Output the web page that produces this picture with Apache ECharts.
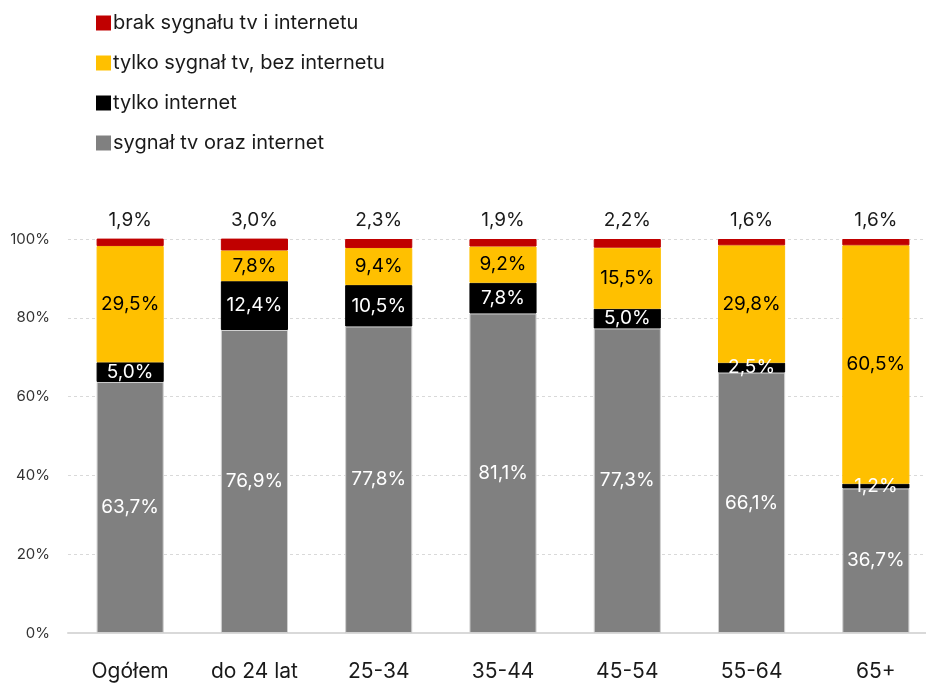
<!DOCTYPE html>
<html>
<head>
<meta charset="utf-8">
<script src="https://cdn.jsdelivr.net/npm/echarts@6/dist/echarts.min.js"></script>
<style>
  html, body { margin: 0; padding: 0; background: #fff; overflow: hidden; }
  #chart { width: 940px; height: 684px; }
</style>
</head>
<body>
<div id="chart"></div>
<script>
// Age groups
const categories = ['Ogółem', 'do 24 lat', '25-34', '35-44', '45-54', '55-64', '65+'];

// Shares (%) per segment, bottom to top of each stack
const tvAndInternet = [63.7, 76.9, 77.8, 81.1, 77.3, 66.1, 36.7];
const internetOnly  = [5.0, 12.4, 10.5, 7.8, 5.0, 2.5, 1.2];
const tvOnly        = [29.5, 7.8, 9.4, 9.2, 15.5, 29.8, 60.5];
const noSignal      = [1.9, 3.0, 2.3, 1.9, 2.2, 1.6, 1.6];

const yTicks = [0, 20, 40, 60, 80, 100];

const seriesNames = {
  both: 'sygnał tv oraz internet',
  internet: 'tylko internet',
  tv: 'tylko sygnał tv, bez internetu',
  none: 'brak sygnału tv i internetu'
};

const FONT = 'Inter, "Noto Sans", sans-serif';
const fmt = v => v.toFixed(1).replace('.', ',') + '%';

function seg(name, data, color, labelColor, pos, borderColor) {
  return {
    name: name,
    type: 'bar',
    stack: 'total',
    barWidth: '54%',
    data: data,
    itemStyle: { color: color, borderColor: borderColor, borderWidth: 1 },
    label: {
      show: true,
      position: pos,
      distance: 9,
      color: labelColor,
      fontFamily: FONT,
      fontSize: 19,
      formatter: p => fmt(p.value)
    },
    emphasis: { disabled: true }
  };
}

const chart = echarts.init(document.getElementById('chart'));
chart.setOption({
  animation: false,
  backgroundColor: '#fff',
  legend: {
    orient: 'vertical',
    left: 91,
    top: 8,
    itemWidth: 15,
    itemHeight: 15,
    itemGap: 20,
    icon: 'rect',
    itemStyle: { borderWidth: 0 },
    textStyle: { fontFamily: FONT, fontSize: 20, color: '#1a1a1a', padding: [0, 0, 0, -3] },
    data: [seriesNames.none, seriesNames.tv, seriesNames.internet, seriesNames.both]
  },
  grid: { left: 68, top: 239, width: 870, height: 394, containLabel: false },
  xAxis: {
    type: 'category',
    data: categories,
    axisTick: { show: false },
    axisLine: { lineStyle: { color: '#d9d9d9', width: 2 } },
    axisLabel: { fontFamily: FONT, fontSize: 21, color: '#1a1a1a', margin: 28 }
  },
  yAxis: {
    type: 'value',
    min: yTicks[0],
    max: yTicks[yTicks.length - 1],
    interval: 20,
    axisLine: { show: false },
    axisTick: { show: false },
    axisLabel: { fontFamily: FONT, fontSize: 15, color: '#333', margin: 18, formatter: v => v + '%' },
    splitLine: { lineStyle: { color: '#d9d9d9', type: [3, 3] } }
  },
  series: [
    seg(seriesNames.both, tvAndInternet, '#808080', '#ffffff', 'inside', '#d0d0d0'),
    seg(seriesNames.internet, internetOnly, '#000000', '#ffffff', 'inside', '#000000'),
    seg(seriesNames.tv, tvOnly, '#ffc000', '#000000', 'inside', '#ffc000'),
    seg(seriesNames.none, noSignal, '#c00000', '#1a1a1a', 'top', '#c00000')
  ]
});
</script>
</body>
</html>
